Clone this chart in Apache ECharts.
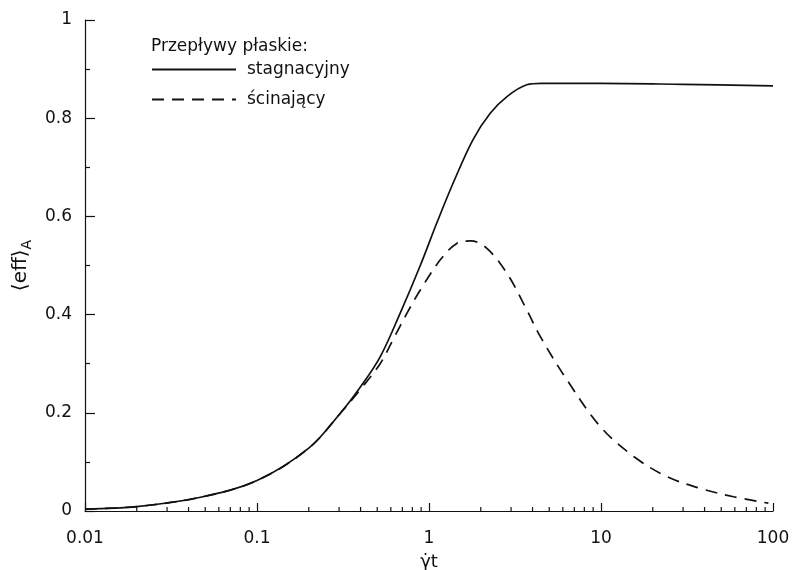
<!DOCTYPE html>
<html>
<head>
<meta charset="utf-8">
<script src="https://cdn.jsdelivr.net/npm/echarts@6/dist/echarts.min.js"></script>
<style>html,body{margin:0;padding:0;background:#fff}#c{width:794px;height:570px}</style>
</head>
<body>
<div id="c"></div>
<script>
// Data
var stagX = [0.01, 0.02, 0.047, 0.1, 0.2, 0.305, 0.4, 0.52, 0.68, 0.89, 1.12, 1.39, 1.8, 2.27, 2.84, 3.7, 4.5, 10, 30, 100];
var stagY = [0.004, 0.009, 0.028, 0.062, 0.128, 0.199, 0.253, 0.314, 0.403, 0.50, 0.59, 0.67, 0.756, 0.81, 0.844, 0.868, 0.871, 0.871, 0.869, 0.866];
var shearX = [0.01, 0.02, 0.047, 0.1, 0.2, 0.305, 0.4, 0.52, 0.62, 0.745, 0.89, 1.16, 1.45, 1.75, 2.17, 2.84, 3.71, 4.44, 6.34, 9.9, 15.5, 24.2, 37.8, 59, 94];
var shearY = [0.004, 0.009, 0.028, 0.062, 0.128, 0.199, 0.248, 0.30, 0.35, 0.403, 0.45, 0.511, 0.545, 0.55, 0.535, 0.484, 0.409, 0.355, 0.267, 0.172, 0.111, 0.07, 0.046, 0.029, 0.016];
var seriesNames = ['stagnacyjny', 'ścinający'];
var legendTitle = 'Przepływy płaskie:';
var minorTickValues = [0.02,0.03,0.04,0.05,0.06,0.07,0.08,0.09,0.2,0.3,0.4,0.5,0.6,0.7,0.8,0.9,2,3,4,5,6,7,8,9,20,30,40,50,60,70,80,90];

function zip(a, b) { return a.map(function (v, i) { return [v, b[i]]; }); }

var FONT = 'DejaVu Sans, Liberation Sans, Arial, sans-serif';
var chart = echarts.init(document.getElementById('c'));
chart.setOption({
  animation: false,
  backgroundColor: '#fff',
  textStyle: { fontFamily: FONT },
  grid: { left: 85, right: 21, top: 20, bottom: 59, containLabel: false, outerBoundsMode: 'none' },
  title: {
    text: legendTitle, left: 146, top: 33,
    textStyle: { fontFamily: FONT, fontSize: 17, fontWeight: 'normal', color: '#111' }
  },
  legend: {
    data: seriesNames, orient: 'vertical', left: 146, top: 56,
    itemWidth: 84, itemHeight: 14, itemGap: 13,
    itemStyle: { opacity: 0 },
    textStyle: { fontFamily: FONT, fontSize: 17, color: '#111', padding: [0, 0, 0, 6] },
    selectedMode: false
  },
  xAxis: {
    type: 'log', logBase: 10, min: 0.01, max: 100,
    name: 'γ̇t', nameLocation: 'middle', nameGap: 42,
    nameTextStyle: { fontFamily: FONT, fontSize: 18, color: '#111' },
    axisLine: { lineStyle: { color: '#111', width: 1.2 } },
    axisTick: { inside: true, length: 8, lineStyle: { color: '#111', width: 1.2 } },
    minorTick: { show: false },
    splitLine: { show: false },
    axisLabel: { fontFamily: FONT, fontSize: 17, color: '#111', margin: 19,
      formatter: function (v) { return String(v); } }
  },
  yAxis: {
    type: 'value', min: 0, max: 1, interval: 0.2,
    name: '{a|⟨eff⟩}{s|A}', nameLocation: 'middle', nameRotate: 90, nameGap: 50,
    nameTextStyle: { fontFamily: FONT, fontSize: 20, color: '#111',
      rich: { a: { fontFamily: FONT, fontSize: 20, color: '#111' },
              s: { fontFamily: FONT, fontSize: 14, color: '#111', padding: [12, 0, 0, 0] } } },
    axisLine: { show: true, lineStyle: { color: '#111', width: 1.2 } },
    axisTick: { show: true, inside: true, length: 10, lineStyle: { color: '#111', width: 1.2 } },
    minorTick: { show: true, splitNumber: 2, length: 5, lineStyle: { color: '#111', width: 1.2 } },
    splitLine: { show: false },
    axisLabel: { fontFamily: FONT, fontSize: 17, color: '#111', margin: 13,
      formatter: function (v) { return String(Math.round(v * 10) / 10); } }
  },
  series: [
    {
      name: seriesNames[0], type: 'line', data: zip(stagX, stagY), smooth: 0.35,
      symbol: 'none', lineStyle: { color: '#111', width: 1.7, type: 'solid' },
      itemStyle: { color: '#111' }
    },
    {
      name: seriesNames[1], type: 'line', data: zip(shearX, shearY), smooth: 0.35,
      symbol: 'none', lineStyle: { color: '#111', width: 1.7, type: [12, 8] },
      itemStyle: { color: '#111' }
    },
    {
      name: 'minorTicks', type: 'custom', silent: true, z: 5,
      data: minorTickValues.map(function (v) { return [v, 0]; }),
      renderItem: function (params, api) {
        var p = api.coord([api.value(0), 0]);
        return { type: 'line', shape: { x1: p[0], y1: p[1], x2: p[0], y2: p[1] - 4 },
                 style: { stroke: '#111', lineWidth: 1.2 } };
      }
    }
  ]
});
</script>
</body>
</html>
